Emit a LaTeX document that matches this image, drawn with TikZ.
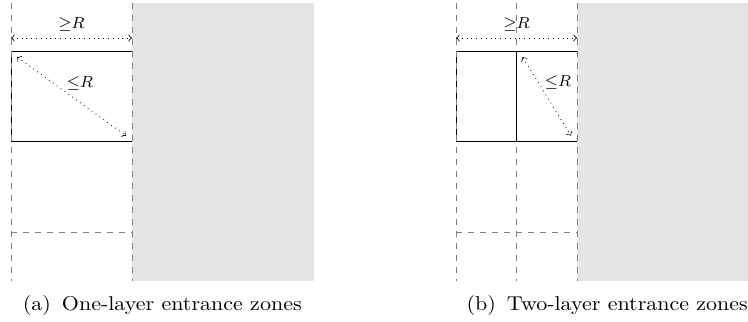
\documentclass[tikz,border=0pt]{standalone}
\usepackage{amsmath,amssymb}
\usetikzlibrary{arrows}
\usetikzlibrary{calc}

\begin{document}
\begin{tikzpicture}[x=15.125pt, y=15.125pt,
    zone/.style={dashed, gray},
    dim/.style={dotted, <->},
    dimlabel/.style={font=\footnotesize},
    caption/.style={xscale=1.1, transform shape}]
        \useasboundingbox (-0.364,1.686) rectangle (24.364,-8.959);

        \fill[gray!20] (4,1.6) rectangle (10,-7.6);
        \draw (4,0) -- (0,0) -- (0,-3) -- (4,-3);
        \foreach \x in {0, 4}
        \draw[zone] (\x,1.6) -- (\x,-7.6);
        \draw[zone] (0,-6) -- (4,-6);

        \coordinate (wa1) at (0,0.43);
        \coordinate (wa2) at (4,0.43);
        \draw[dim] (wa1) -- node[above, dimlabel] (geqa) {${\geq}R$} (wa2);
        \coordinate (da1) at (0.2,-0.2);
        \coordinate (da2) at (3.8,-2.8);
        \draw[dim] (da1) -- (da2);
        \node[dimlabel] (leqa) at (2.28,-1.07) {${\leq}R$};

        \begin{scope}[shift={(5,-8.4)}]
        \node[caption] (capa) {(a)\enspace One-layer entrance zones};
        \end{scope}

        \begin{scope}[shift={(14.711,0)}]
        \fill[gray!20] (4,1.6) rectangle (10,-7.6);
        \draw (4,0) -- (0,0) -- (0,-3) -- (4,-3);
        \foreach \x in {0, 2, 4}
        \draw[zone] (\x,1.6) -- (\x,-7.6);
        \draw (2,0) -- (2,-3);
        \draw[zone] (0,-6) -- (4,-6);

        \coordinate (wb1) at (0,0.43);
        \coordinate (wb2) at (4,0.43);
        \draw[dim] (wb1) -- node[above, dimlabel] (geqb) {${\geq}R$} (wb2);
        \coordinate (db1) at (2.2,-0.2);
        \coordinate (db2) at (3.8,-2.8);
        \draw[dim] (db1) -- (db2);
        \node[dimlabel] (leqb) at (3.37,-1.05) {${\leq}R$};

        \begin{scope}[shift={(5,-8.4)}]
        \node[caption] (capb) {(b)\enspace Two-layer entrance zones};
        \end{scope}
        \end{scope}
      \end{tikzpicture}
\end{document}
